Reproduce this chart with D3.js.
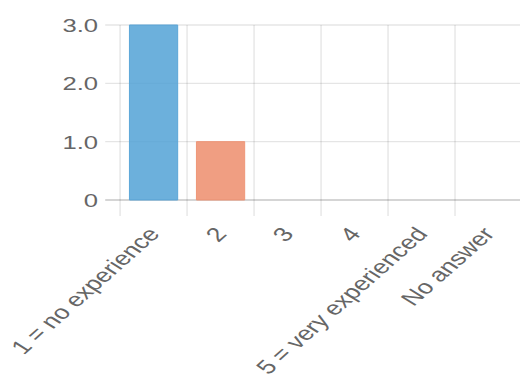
<!DOCTYPE html>
<html>
<head>
<meta charset="utf-8">
<script src="https://cdn.jsdelivr.net/npm/d3@7"></script>
<style>
  html, body { margin: 0; padding: 0; background: #fff; }
  svg { display: block; }
  text { font-family: "Liberation Sans", Arial, Helvetica, sans-serif; fill: #666; }
</style>
</head>
<body>
<svg id="chart"></svg>
<script>
// Survey responses: self-rated experience
const categories = ["1 = no experience", "2", "3", "4", "5 = very experienced", "No answer"];
const counts = [3, 1, 0, 0, 0, 0];
const barColors = ["rgba(82,162,214,0.85)", "rgba(237,141,108,0.85)", "rgba(82,162,214,0.85)",
                   "rgba(237,141,108,0.85)", "rgba(82,162,214,0.85)", "rgba(237,141,108,0.85)"];
const borderColors = ["rgb(92,166,216)", "rgb(238,150,120)", "rgb(92,166,216)",
                      "rgb(238,150,120)", "rgb(92,166,216)", "rgb(238,150,120)"];
const yTicks = [0, 1, 2, 3];

// The drawing is laid out on a square canvas and stretched to the window width.
const W = 520, H = 385, VW = 385, VH = 385;
const svg = d3.select("#chart")
  .attr("width", W).attr("height", H)
  .attr("viewBox", `0 0 ${VW} ${VH}`)
  .attr("preserveAspectRatio", "none");

const plotLeft = 88.9, plotRight = 386.5, plotTop = 25, plotBottom = 200;

const x = d3.scaleBand().domain(categories).range([plotLeft, plotRight]).paddingInner(0).paddingOuter(0);
const y = d3.scaleLinear().domain([0, 3]).range([plotBottom, plotTop]);

const grid = svg.append("g");

// horizontal grid lines (with left tick marks)
grid.selectAll("line.h").data(yTicks).join("line")
  .attr("x1", plotLeft - 11).attr("x2", plotRight)
  .attr("y1", d => y(d)).attr("y2", d => y(d))
  .attr("stroke", d => d === 0 ? "rgba(0,0,0,0.22)" : "rgba(0,0,0,0.1)")
  .attr("stroke-width", 1.4)
  .attr("vector-effect", "non-scaling-stroke");

// vertical grid lines between categories (with bottom tick marks)
const bounds = categories.map(c => x(c)).concat([plotRight]);
grid.selectAll("line.v").data(bounds).join("line")
  .attr("x1", d => d).attr("x2", d => d)
  .attr("y1", plotTop).attr("y2", plotBottom + 16)
  .attr("stroke", "rgba(0,0,0,0.1)")
  .attr("stroke-width", 1.4)
  .attr("vector-effect", "non-scaling-stroke");

// bars
const bw = x.bandwidth() * 0.72;
svg.append("g").selectAll("rect").data(counts).join("rect")
  .attr("x", (d, i) => x(categories[i]) + (x.bandwidth() - bw) / 2)
  .attr("width", bw)
  .attr("y", d => y(d))
  .attr("height", d => y(0) - y(d))
  .attr("fill", (d, i) => barColors[i])
  .attr("stroke", (d, i) => d > 0 ? borderColors[i] : "none")
  .attr("stroke-width", 1)
  .attr("vector-effect", "non-scaling-stroke");

// y axis labels
const yAxis = d3.axisLeft(y)
  .tickValues(yTicks)
  .tickFormat(d => d === 0 ? "0" : d.toFixed(1))
  .tickSize(0)
  .tickPadding(0);
const yg = svg.append("g").attr("transform", `translate(${72.6},0)`).call(yAxis);
yg.select(".domain").remove();
yg.selectAll("text")
  .attr("font-size", 19)
  .attr("font-family", null)
  .attr("fill", "#666")
  .attr("dy", "0.35em");

// x axis labels, rotated
const xAxis = d3.axisBottom(x).tickSize(0).tickPadding(0);
const xg = svg.append("g").attr("transform", `translate(0,${230})`).call(xAxis);
xg.select(".domain").remove();
xg.selectAll("text")
  .attr("font-size", 19.8)
  .attr("font-family", null)
  .attr("fill", "#666")
  .attr("text-anchor", "end")
  .attr("y", 0)
  .attr("dy", "0.35em")
  .attr("transform", "rotate(-50)");
</script>
</body>
</html>
